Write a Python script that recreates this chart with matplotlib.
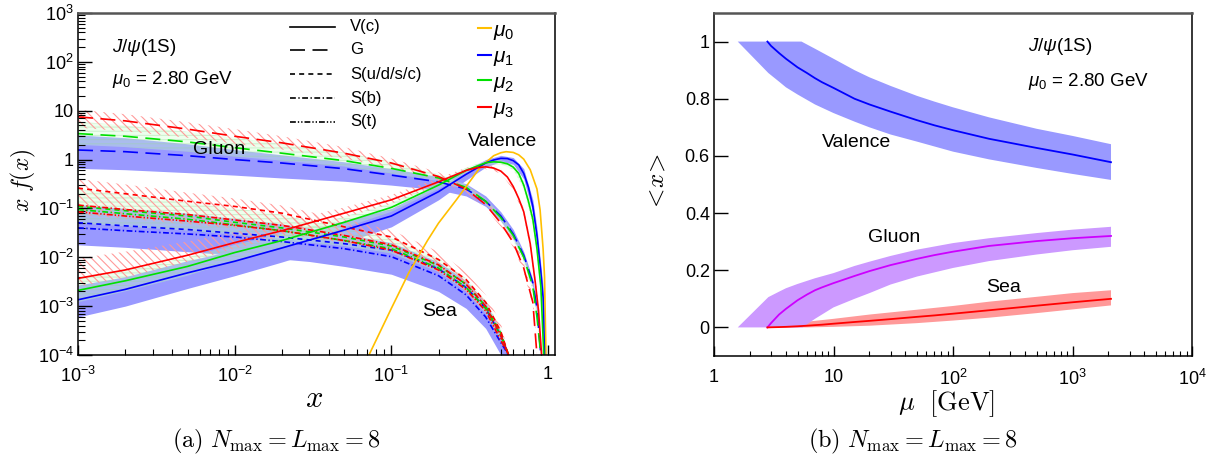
import numpy as np
import matplotlib
matplotlib.use('Agg')
import matplotlib.pyplot as plt
from matplotlib.ticker import LogLocator, FixedLocator, FuncFormatter, NullFormatter

plt.rcParams['font.family'] = ['Liberation Sans', 'DejaVu Sans']
plt.rcParams['mathtext.fontset'] = 'custom'
plt.rcParams['mathtext.rm'] = 'Liberation Sans'
plt.rcParams['mathtext.it'] = 'Liberation Sans:italic'
plt.rcParams['mathtext.bf'] = 'Liberation Sans:bold'
plt.rcParams['hatch.linewidth'] = 0.8

# ---------------- Left panel data: x f(x) ----------------
# Gluon
x_g = [0.001, 0.002, 0.005, 0.01, 0.02, 0.05, 0.1, 0.2, 0.3, 0.4, 0.5, 0.6, 0.7, 0.8, 0.85, 0.9]
g_mu1 = [1.57, 1.45, 1.2, 1.0, 0.85, 0.65, 0.48, 0.35, 0.25, 0.14, 0.07, 0.03, 0.011, 0.003, 0.0009, 0.0001]
g_mu2 = [3.4, 3.0, 2.3, 1.75, 1.35, 0.95, 0.66, 0.42, 0.27, 0.14, 0.065, 0.028, 0.010, 0.0025, 0.0006, 0.0001]
x_g3 = [0.001, 0.002, 0.005, 0.01, 0.02, 0.05, 0.1, 0.2, 0.3, 0.4, 0.5, 0.6, 0.7, 0.8, 0.85]
g_mu3 = [7.5, 6.2, 4.2, 3.0, 2.2, 1.35, 0.85, 0.45, 0.25, 0.12, 0.05, 0.02, 0.006, 0.0012, 0.0001]

g_mu1_lo = [0.66, 0.62, 0.54, 0.48, 0.42, 0.36, 0.3, 0.24, 0.18, 0.11, 0.055, 0.024, 0.009, 0.0024, 0.0007, 0.0001]
g_mu1_hi = [3.2, 2.8, 2.1, 1.6, 1.25, 0.9, 0.65, 0.45, 0.32, 0.18, 0.085, 0.037, 0.013, 0.0035, 0.0011, 0.00012]
g_mu2_lo = [2.0, 1.8, 1.45, 1.15, 0.95, 0.72, 0.52, 0.36, 0.24, 0.12, 0.055, 0.022, 0.008, 0.002, 0.0005, 0.0001]
g_mu2_hi = [6.0, 5.0, 3.7, 2.8, 2.1, 1.4, 0.9, 0.5, 0.31, 0.16, 0.075, 0.033, 0.012, 0.003, 0.0008, 0.00015]
g_mu3_lo = [4.5, 3.8, 2.8, 2.1, 1.6, 1.05, 0.68, 0.38, 0.21, 0.1, 0.042, 0.016, 0.005, 0.001, 0.0001]
g_mu3_hi = [10.5, 8.5, 5.8, 4.2, 3.0, 1.8, 1.05, 0.55, 0.3, 0.15, 0.062, 0.025, 0.008, 0.0016, 0.00015]

# Valence lines
x_v0 = [0.072, 0.1, 0.13, 0.17, 0.2, 0.26, 0.3, 0.37, 0.45, 0.5, 0.54, 0.6, 0.65, 0.7, 0.77, 0.85, 0.89, 0.93, 0.95, 0.97]
v_mu0 = [1e-4, 9e-4, 5e-3, 0.022, 0.05, 0.15, 0.28, 0.7, 1.2, 1.38, 1.45, 1.4, 1.25, 1.02, 0.62, 0.25, 0.093, 0.015, 4e-3, 1e-4]
x_v1 = [0.001, 0.002, 0.005, 0.01, 0.02, 0.05, 0.1, 0.2, 0.3, 0.4, 0.45, 0.5, 0.55, 0.6, 0.65, 0.7, 0.75, 0.8, 0.85, 0.9, 0.93, 0.95]
v_mu1 = [1.35e-3, 2.2e-3, 4.8e-3, 8.3e-3, 0.0155, 0.036, 0.07, 0.22, 0.5, 0.85, 0.98, 1.06, 1.05, 0.95, 0.78, 0.52, 0.27, 0.11, 0.028, 5e-3, 1.5e-3, 1e-4]
x_v2 = [0.001, 0.002, 0.005, 0.01, 0.02, 0.05, 0.1, 0.2, 0.3, 0.4, 0.45, 0.5, 0.55, 0.6, 0.65, 0.7, 0.75, 0.8, 0.85, 0.9, 0.94]
v_mu2 = [2.1e-3, 3.3e-3, 6.5e-3, 0.0125, 0.022, 0.052, 0.105, 0.3, 0.6, 0.86, 0.9, 0.88, 0.82, 0.7, 0.52, 0.3, 0.14, 0.06, 0.015, 2.5e-3, 1e-4]
x_v3 = [0.001, 0.002, 0.005, 0.01, 0.02, 0.05, 0.1, 0.2, 0.3, 0.35, 0.4, 0.45, 0.5, 0.55, 0.6, 0.65, 0.7, 0.77, 0.83, 0.87, 0.91]
v_mu3 = [3.7e-3, 5.5e-3, 0.011, 0.02, 0.035, 0.08, 0.15, 0.35, 0.6, 0.68, 0.71, 0.67, 0.58, 0.44, 0.28, 0.16, 0.085, 0.019, 3e-3, 8e-4, 1e-4]

# Valence bands
x_vb1 = [0.001, 0.002, 0.005, 0.01, 0.02, 0.05, 0.1, 0.2, 0.3, 0.4, 0.5, 0.6, 0.7, 0.8, 0.85, 0.9, 0.93, 0.95]
v_mu1_lo = [6e-4, 1e-3, 2.3e-3, 4.2e-3, 8e-3, 0.02, 0.042, 0.15, 0.38, 0.7, 0.92, 0.8, 0.4, 0.08, 0.02, 3.5e-3, 1.2e-3, 1e-4]
v_mu1_hi = [2.7e-3, 4e-3, 8.5e-3, 0.014, 0.025, 0.056, 0.1, 0.3, 0.62, 1.0, 1.22, 1.1, 0.65, 0.15, 0.04, 7e-3, 2.5e-3, 1.2e-4]
x_vb2 = [0.001, 0.002, 0.005, 0.01, 0.02, 0.05, 0.1, 0.2, 0.3, 0.4, 0.5, 0.6, 0.7, 0.8, 0.85, 0.9, 0.94]
v_mu2_lo = [1.2e-3, 2e-3, 4.2e-3, 8.5e-3, 0.016, 0.04, 0.085, 0.25, 0.52, 0.78, 0.8, 0.62, 0.25, 0.045, 0.011, 1.8e-3, 1e-4]
v_mu2_hi = [3.6e-3, 5.3e-3, 0.01, 0.018, 0.03, 0.068, 0.13, 0.36, 0.68, 0.95, 0.97, 0.78, 0.36, 0.075, 0.02, 3.3e-3, 1.2e-4]
x_vb3 = [0.001, 0.002, 0.005, 0.01, 0.02, 0.05, 0.1, 0.2, 0.3, 0.4, 0.5, 0.6, 0.7, 0.77, 0.83, 0.87, 0.91]
v_mu3_lo = [2.5e-3, 3.8e-3, 8e-3, 0.015, 0.027, 0.064, 0.125, 0.3, 0.53, 0.64, 0.52, 0.24, 0.072, 0.015, 2.4e-3, 6.5e-4, 1e-4]
v_mu3_hi = [9.5e-3, 0.013, 0.021, 0.033, 0.052, 0.105, 0.19, 0.42, 0.68, 0.8, 0.65, 0.32, 0.1, 0.024, 3.8e-3, 1.1e-3, 1.2e-4]

# Sea
x_s = [0.001, 0.002, 0.005, 0.01, 0.02, 0.05, 0.1, 0.2, 0.3, 0.4, 0.5, 0.56]
s_udsc_mu3 = [0.26, 0.2, 0.14, 0.11, 0.08, 0.042, 0.026, 0.009, 0.0035, 0.0012, 0.0003, 1e-4]
s_b_mu3 = [0.117, 0.095, 0.075, 0.058, 0.045, 0.028, 0.018, 0.007, 0.0028, 0.001, 0.00025, 1e-4]
s_t_mu3 = [0.085, 0.07, 0.055, 0.045, 0.035, 0.022, 0.014, 0.0055, 0.0022, 0.0008, 0.0002, 1e-4]
s_udsc_mu2 = [0.11, 0.09, 0.07, 0.052, 0.04, 0.026, 0.017, 0.0068, 0.0028, 0.001, 0.00028, 1e-4]
s_b_mu2 = [0.095, 0.078, 0.06, 0.046, 0.035, 0.022, 0.015, 0.006, 0.0024, 0.0009, 0.00025, 1e-4]
s_udsc_mu1 = [0.051, 0.044, 0.037, 0.031, 0.026, 0.019, 0.014, 0.0058, 0.0024, 0.0009, 0.00025, 1e-4]
s_b_mu1 = [0.04, 0.035, 0.03, 0.026, 0.021, 0.015, 0.0103, 0.0042, 0.0017, 0.0006, 0.00018, 1e-4]
x_sb = [0.001, 0.002, 0.005, 0.01, 0.02, 0.03, 0.05, 0.1, 0.2, 0.3, 0.4, 0.5, 0.56]
s_mu1_lo = [0.018, 0.016, 0.013, 0.011, 0.0092, 0.0082, 0.0065, 0.0045, 0.002, 0.0009, 0.00035, 0.0001, 0.0001]
s_mu1_hi = [0.12, 0.1, 0.08, 0.062, 0.048, 0.04, 0.03, 0.02, 0.008, 0.0033, 0.0012, 0.0003, 0.0001]
s_mu2_lo = [0.05, 0.043, 0.035, 0.029, 0.024, 0.02, 0.017, 0.012, 0.005, 0.002, 0.0007, 0.0002, 0.0001]
s_mu2_hi = [0.25, 0.19, 0.13, 0.1, 0.075, 0.055, 0.04, 0.025, 0.0095, 0.0037, 0.0013, 0.00035, 0.0001]
s_mu3_lo = [0.075, 0.062, 0.048, 0.039, 0.031, 0.025, 0.02, 0.013, 0.005, 0.002, 0.0007, 0.0002, 0.0001]
s_mu3_hi = [0.4, 0.31, 0.21, 0.16, 0.115, 0.085, 0.06, 0.036, 0.013, 0.005, 0.0017, 0.00045, 0.0001]

# ---------------- Right panel data: <x> vs mu ----------------
mu = [2.8, 3, 3.5, 4, 5, 6, 7, 8, 10, 15, 20, 30, 50, 70, 100, 200, 500, 1000, 2100]
val = [1.0, 0.985, 0.96, 0.94, 0.91, 0.89, 0.872, 0.858, 0.838, 0.80, 0.78, 0.755, 0.725, 0.707, 0.69, 0.66, 0.628, 0.605, 0.578]
glu = [0.0, 0.015, 0.045, 0.065, 0.095, 0.115, 0.13, 0.14, 0.155, 0.18, 0.197, 0.218, 0.24, 0.253, 0.265, 0.285, 0.302, 0.312, 0.32]
sea = [0.0, 0.0005, 0.0012, 0.002, 0.004, 0.006, 0.008, 0.0095, 0.013, 0.019, 0.023, 0.029, 0.037, 0.042, 0.048, 0.06, 0.076, 0.088, 0.10]
mu_val_hi = [1.58, 5.4, 7, 10, 15, 20, 30, 50, 70, 100, 200, 500, 1000, 2100]
val_hi = [1.0, 1.0, 0.975, 0.94, 0.9, 0.875, 0.845, 0.81, 0.79, 0.77, 0.735, 0.695, 0.67, 0.641]
mu_val_lo = [1.58, 2.85, 3.5, 4, 5, 7, 10, 15, 20, 30, 50, 100, 200, 500, 1000, 2100]
val_lo = [1.0, 0.89, 0.86, 0.84, 0.815, 0.78, 0.75, 0.72, 0.70, 0.675, 0.65, 0.615, 0.588, 0.558, 0.537, 0.516]
mu_glu_hi = [1.58, 2.85, 3.5, 4, 5, 7, 10, 15, 20, 30, 50, 100, 200, 500, 1000, 2100]
glu_hi = [0.0, 0.106, 0.125, 0.137, 0.152, 0.172, 0.19, 0.215, 0.23, 0.25, 0.272, 0.295, 0.312, 0.33, 0.342, 0.352]
mu_glu_lo = [1.58, 5.5, 7, 10, 15, 20, 30, 50, 100, 200, 500, 1000, 2100]
glu_lo = [0.0, 0.0, 0.03, 0.07, 0.1, 0.12, 0.15, 0.178, 0.208, 0.232, 0.255, 0.27, 0.282]
mu_sea_b = [2.8, 4, 6, 10, 20, 50, 100, 200, 500, 1000, 2100]
sea_hi = [0.0, 0.01, 0.02, 0.03, 0.045, 0.062, 0.075, 0.09, 0.107, 0.12, 0.13]
sea_lo = [0.0, 0.0, 0.0, 0.002, 0.006, 0.015, 0.024, 0.034, 0.05, 0.063, 0.077]

# ---------------- Figure ----------------
W, H = 1207, 455
fig = plt.figure(figsize=(12.07, 4.55), dpi=100)


def axrect(l, r, t, b):
    return [l / W, 1 - b / H, (r - l) / W, (b - t) / H]


ax1 = fig.add_axes(axrect(78, 555, 13, 355))
ax2 = fig.add_axes(axrect(714, 1192, 13, 356))

BLUE, GREEN, RED, YEL = '#0000ff', '#00e000', '#ff0000', '#ffbf00'
BLUEBAND = '#9999ff'

# bands (blue solid)
ax1.fill_between(x_g, g_mu1_lo, g_mu1_hi, color=BLUEBAND, lw=0)
ax1.fill_between(x_vb1, v_mu1_lo, v_mu1_hi, color=BLUEBAND, lw=0)
ax1.fill_between(x_sb, s_mu1_lo, s_mu1_hi, color=BLUEBAND, lw=0)
# green bands
for xx, lo, hi in [(x_g, g_mu2_lo, g_mu2_hi), (x_vb2, v_mu2_lo, v_mu2_hi), (x_sb, s_mu2_lo, s_mu2_hi)]:
    ax1.fill_between(xx, lo, hi, facecolor=(0.8, 1.0, 0.8, 0.35),
                     edgecolor=(0.6, 0.85, 0.6, 0.35), hatch='----', lw=0)
# red hatched bands
for xx, lo, hi in [(x_g3, g_mu3_lo, g_mu3_hi), (x_vb3, v_mu3_lo, v_mu3_hi), (x_sb, s_mu3_lo, s_mu3_hi)]:
    ax1.fill_between(xx, lo, hi, facecolor='none', edgecolor='#ff9a9a', hatch='\\\\\\\\', lw=0)

LW = 1.2
DS_G = (9, 4.5)
DS_S = (3, 2.5)
DS_B = (3.5, 1.5, 0.8, 1.5)
DS_T = (3.5, 1.2, 0.8, 1.2, 0.8, 1.2)

# sea lines
ax1.plot(x_s, s_b_mu1, color=BLUE, lw=LW, dashes=DS_B)
ax1.plot(x_s, s_udsc_mu1, color=BLUE, lw=LW, dashes=DS_S)
ax1.plot(x_s, s_b_mu2, color=GREEN, lw=LW, dashes=DS_B)
ax1.plot(x_s, s_udsc_mu2, color=GREEN, lw=LW, dashes=DS_S)
ax1.plot(x_s, s_t_mu3, color=RED, lw=LW, dashes=DS_T)
ax1.plot(x_s, s_b_mu3, color=RED, lw=LW, dashes=DS_B)
ax1.plot(x_s, s_udsc_mu3, color=RED, lw=LW, dashes=DS_S)
# gluon lines
ax1.plot(x_g, g_mu1, color=BLUE, lw=LW, dashes=DS_G)
ax1.plot(x_g, g_mu2, color=GREEN, lw=LW, dashes=DS_G)
ax1.plot(x_g3, g_mu3, color=RED, lw=LW, dashes=DS_G)
# valence
ax1.plot(x_v0, v_mu0, color=YEL, lw=LW)
ax1.plot(x_v1, v_mu1, color=BLUE, lw=LW)
ax1.plot(x_v2, v_mu2, color=GREEN, lw=LW)
ax1.plot(x_v3, v_mu3, color=RED, lw=LW)

ax1.set_xscale('log')
ax1.set_yscale('log')
ax1.set_xlim(1e-3, 1.108)
ax1.set_ylim(1e-4, 1e3)


def logfmt(v, pos):
    e = int(round(np.log10(v)))
    if e == 0:
        return '1'
    if e == 1:
        return '10'
    return r'$10^{%d}$' % e


ax1.xaxis.set_major_locator(FixedLocator([1e-3, 1e-2, 1e-1, 1]))
ax1.xaxis.set_minor_locator(LogLocator(base=10, subs=np.arange(2, 10), numticks=20))
ax1.yaxis.set_major_locator(FixedLocator([1e-4, 1e-3, 1e-2, 1e-1, 1, 10, 100, 1000]))
ax1.yaxis.set_minor_locator(LogLocator(base=10, subs=np.arange(2, 10), numticks=20))
ax1.xaxis.set_major_formatter(FuncFormatter(logfmt))
ax1.yaxis.set_major_formatter(FuncFormatter(logfmt))
ax1.xaxis.set_minor_formatter(NullFormatter())
ax1.yaxis.set_minor_formatter(NullFormatter())
ax1.tick_params(axis='y', which='major', direction='in', length=10, width=1, pad=3, labelsize=13)
ax1.tick_params(axis='y', which='minor', direction='in', length=5, width=0.8)
ax1.tick_params(axis='x', which='major', direction='in', length=7, width=1, pad=8, labelsize=13)
ax1.tick_params(axis='x', which='minor', direction='in', length=4, width=0.8)
ax1.tick_params(which='both', top=False, right=False)


# ---- left panel legends (drawn manually) ----
def px2ax1(px, py):
    return (px - 78) / 477, (355 - py) / 342


styles = [('V(c)', None), ('G', DS_G), ('S(u/d/s/c)', DS_S), ('S(b)', DS_B), ('S(t)', DS_T)]
rows = [26.7, 50, 74, 98.3, 121.7]
for (lab, ds), py in zip(styles, rows):
    x0, y0 = px2ax1(290, py)
    x1, _ = px2ax1(335, py)
    kw = dict(color='k', lw=LW, transform=ax1.transAxes, clip_on=False)
    if ds is not None:
        kw['dashes'] = ds
    ax1.plot([x0, x1], [y0, y0], **kw)
    tx, ty = px2ax1(350, py)
    ax1.text(tx, ty, lab, transform=ax1.transAxes, fontsize=12, va='center', ha='left')

mus = [(r'$\mu_{\mathit{0}}$', YEL), (r'$\mu_{\mathit{1}}$', BLUE), (r'$\mu_{\mathit{2}}$', GREEN), (r'$\mu_{\mathit{3}}$', RED)]
mrows = [28.3, 55, 80, 107]
for (lab, c), py in zip(mus, mrows):
    x0, y0 = px2ax1(478, py)
    x1, _ = px2ax1(491, py)
    ax1.plot([x0, x1], [y0, y0], color=c, lw=1.5, transform=ax1.transAxes)
    tx, ty = px2ax1(493, py + 4)
    ax1.text(tx, ty, lab, transform=ax1.transAxes, fontsize=15, va='center', ha='left')

t = px2ax1(112, 48)
ax1.text(t[0], t[1], r'$J/\psi$(1S)', transform=ax1.transAxes, fontsize=13.5, va='center', ha='left')
t = px2ax1(112, 80)
ax1.text(t[0], t[1], r'$\mu_{\mathit{0}}$ = 2.80 GeV', transform=ax1.transAxes, fontsize=13.5, va='center', ha='left')
t = px2ax1(193, 150)
ax1.text(t[0], t[1], 'Gluon', transform=ax1.transAxes, fontsize=14, va='center', ha='left')
t = px2ax1(468, 141.7)
ax1.text(t[0], t[1], 'Valence', transform=ax1.transAxes, fontsize=14, va='center', ha='left')
t = px2ax1(421.7, 311.7)
ax1.text(t[0], t[1], 'Sea', transform=ax1.transAxes, fontsize=14, va='center', ha='left')

# ---------------- Right panel ----------------
ax2.fill(mu_val_hi + mu_val_lo[::-1], val_hi + val_lo[::-1], color='#9999ff', lw=0)
ax2.fill(mu_sea_b + mu_sea_b[::-1], sea_hi + sea_lo[::-1], color='#ff9999', lw=0)
ax2.fill(mu_glu_hi + mu_glu_lo[::-1], glu_hi + glu_lo[::-1], color='#cc99ff', lw=0)
ax2.plot(mu, val, color='#0000ff', lw=1.3)
ax2.plot(mu, glu, color='#cc00ff', lw=1.3)
ax2.plot(mu, sea, color='#ff0000', lw=1.3)
ax2.set_xscale('log')
ax2.set_xlim(1, 1e4)
ax2.set_ylim(-0.1, 1.1)
ax2.xaxis.set_major_locator(FixedLocator([1, 10, 100, 1000, 10000]))
ax2.xaxis.set_minor_locator(LogLocator(base=10, subs=np.arange(2, 10), numticks=20))
ax2.xaxis.set_major_formatter(FuncFormatter(logfmt))
ax2.xaxis.set_minor_formatter(NullFormatter())
ax2.yaxis.set_major_locator(FixedLocator([0, 0.2, 0.4, 0.6, 0.8, 1.0]))
ax2.yaxis.set_major_formatter(FuncFormatter(lambda v, p: '0' if abs(v) < 1e-9 else ('1' if abs(v - 1) < 1e-9 else '%.1f' % v)))
ax2.tick_params(axis='y', which='major', direction='in', length=10, width=1, pad=3, labelsize=13)
ax2.tick_params(axis='x', which='major', direction='in', length=7, width=1, pad=9, labelsize=13)
ax2.tick_params(axis='x', which='minor', direction='in', length=3.5, width=0.8)
ax2.tick_params(which='both', top=False, right=False)


def px2ax2(px, py):
    return (px - 714) / 478, (356 - py) / 343


t = px2ax2(1028, 46.7)
ax2.text(t[0], t[1], r'$J/\psi$(1S)', transform=ax2.transAxes, fontsize=13.5, va='center', ha='left')
t = px2ax2(1028, 81)
ax2.text(t[0], t[1], r'$\mu_{\mathit{0}}$ = 2.80 GeV', transform=ax2.transAxes, fontsize=13.5, va='center', ha='left')
t = px2ax2(856.7, 142.7)
ax2.text(t[0], t[1], 'Valence', transform=ax2.transAxes, fontsize=14, va='center', ha='center')
t = px2ax2(894, 237)
ax2.text(t[0], t[1], 'Gluon', transform=ax2.transAxes, fontsize=14, va='center', ha='center')
t = px2ax2(1004, 288)
ax2.text(t[0], t[1], 'Sea', transform=ax2.transAxes, fontsize=14, va='center', ha='center')

for ax in (ax1, ax2):
    for s in ax.spines.values():
        s.set_linewidth(1.1)
        s.set_color('k')
    ax.spines['top'].set_color('#555555')
    ax.spines['top'].set_linewidth(1.8)

# axis labels and captions (Computer Modern math)
fig.text(23 / W, 1 - 180 / H, r'$x\ f(x)$', fontsize=17, rotation=90, ha='center', va='center', math_fontfamily='cm')
fig.text(314 / W, 1 - 399 / H, r'$x$', fontsize=22, ha='center', va='center', math_fontfamily='cm')
fig.text(657 / W, 1 - 183 / H, r'$<\!x\!>$', fontsize=18, rotation=90, ha='center', va='center', math_fontfamily='cm')
fig.text(946 / W, 1 - 404 / H, r'$\mu\ \ [\mathrm{GeV}]$', fontsize=19, ha='center', va='center', math_fontfamily='cm')
fig.text(276 / W, 1 - 447 / H, r'$\mathrm{(a)}\ N_{\max} = L_{\max} = 8$', fontsize=17.5, ha='center', va='baseline', math_fontfamily='cm')
fig.text(913 / W, 1 - 447 / H, r'$\mathrm{(b)}\ N_{\max} = L_{\max} = 8$', fontsize=17.5, ha='center', va='baseline', math_fontfamily='cm')

fig.savefig('out.png', dpi=100)
